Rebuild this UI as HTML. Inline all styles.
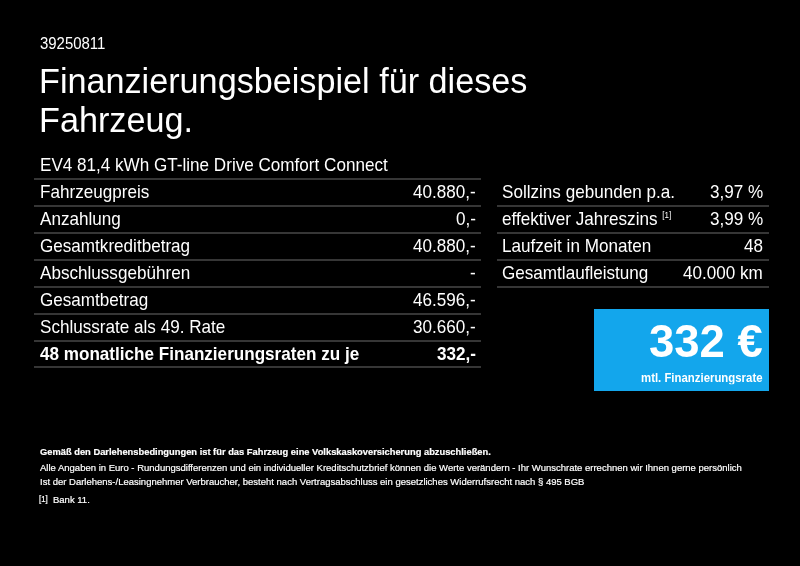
<!DOCTYPE html>
<html><head><meta charset="utf-8">
<style>
*{margin:0;padding:0;box-sizing:border-box}
html,body{width:800px;height:566px;background:#000;overflow:hidden}
body{position:relative;font-family:"Liberation Sans",sans-serif;color:#fff}
.t{position:absolute;white-space:nowrap;line-height:1;will-change:transform}
.ln{position:absolute}
.box{position:absolute}
sup{font-size:0.5em;vertical-align:top;position:relative;top:0}
</style></head><body>
<div class="t" style="left:39.50px;top:36.64px;font-size:14.95px;transform:scale(1.0,1.05);transform-origin:left 12.66px;">39250811</div>
<div class="t" style="left:39.40px;top:64.15px;font-size:34.2px;">Finanzierungsbeispiel für dieses</div>
<div class="t" style="left:39.40px;top:103.45px;font-size:34.2px;">Fahrzeug.</div>
<div class="t" style="left:39.50px;top:156.67px;font-size:17.1px;transform:scale(1.0,1.04);transform-origin:left 14.48px;">EV4 81,4 kWh GT-line Drive Comfort Connect</div>
<div class="ln" style="left:33.5px;top:178.25px;width:447.5px;height:2px;background:#363636"></div>
<div class="t" style="left:39.50px;top:184.45px;font-size:17.1px;transform:scale(1.0,1.04);transform-origin:left 14.48px;">Fahrzeugpreis</div>
<div class="t" style="right:324.40px;top:184.45px;font-size:17.1px;transform:scale(1.0,1.04);transform-origin:right 14.48px;">40.880,-</div>
<div class="ln" style="left:33.5px;top:205.13px;width:447.5px;height:2px;background:#363636"></div>
<div class="t" style="left:39.50px;top:211.33px;font-size:17.1px;transform:scale(1.0,1.04);transform-origin:left 14.48px;">Anzahlung</div>
<div class="t" style="right:324.40px;top:211.33px;font-size:17.1px;transform:scale(1.0,1.04);transform-origin:right 14.48px;">0,-</div>
<div class="ln" style="left:33.5px;top:232.01px;width:447.5px;height:2px;background:#363636"></div>
<div class="t" style="left:39.50px;top:238.21px;font-size:17.1px;transform:scale(1.0,1.04);transform-origin:left 14.48px;">Gesamtkreditbetrag</div>
<div class="t" style="right:324.40px;top:238.21px;font-size:17.1px;transform:scale(1.0,1.04);transform-origin:right 14.48px;">40.880,-</div>
<div class="ln" style="left:33.5px;top:258.89px;width:447.5px;height:2px;background:#363636"></div>
<div class="t" style="left:39.50px;top:265.09px;font-size:17.1px;transform:scale(1.0,1.04);transform-origin:left 14.48px;">Abschlussgebühren</div>
<div class="t" style="right:324.40px;top:265.09px;font-size:17.1px;transform:scale(1.0,1.04);transform-origin:right 14.48px;">-</div>
<div class="ln" style="left:33.5px;top:285.77px;width:447.5px;height:2px;background:#363636"></div>
<div class="t" style="left:39.50px;top:291.97px;font-size:17.1px;transform:scale(1.0,1.04);transform-origin:left 14.48px;">Gesamtbetrag</div>
<div class="t" style="right:324.40px;top:291.97px;font-size:17.1px;transform:scale(1.0,1.04);transform-origin:right 14.48px;">46.596,-</div>
<div class="ln" style="left:33.5px;top:312.65px;width:447.5px;height:2px;background:#363636"></div>
<div class="t" style="left:39.50px;top:318.85px;font-size:17.1px;transform:scale(1.0,1.04);transform-origin:left 14.48px;">Schlussrate als 49. Rate</div>
<div class="t" style="right:324.40px;top:318.85px;font-size:17.1px;transform:scale(1.0,1.04);transform-origin:right 14.48px;">30.660,-</div>
<div class="ln" style="left:33.5px;top:339.53px;width:447.5px;height:2px;background:#363636"></div>
<div class="t" style="left:39.50px;top:345.73px;font-size:17.1px;font-weight:bold;transform:scale(1.0,1.04);transform-origin:left 14.48px;">48 monatliche Finanzierungsraten zu je</div>
<div class="t" style="right:324.40px;top:345.73px;font-size:17.1px;font-weight:bold;transform:scale(1.0,1.04);transform-origin:right 14.48px;">332,-</div>
<div class="ln" style="left:33.5px;top:366.41px;width:447.5px;height:2px;background:#363636"></div>
<div class="t" style="left:502.20px;top:184.45px;font-size:17.1px;transform:scale(1.0,1.04);transform-origin:left 14.48px;">Sollzins gebunden p.a.</div>
<div class="t" style="right:36.80px;top:184.45px;font-size:17.1px;transform:scale(1.0,1.04);transform-origin:right 14.48px;">3,97 %</div>
<div class="ln" style="left:497px;top:205.13px;width:272px;height:2px;background:#363636"></div>
<div class="t" style="left:502.20px;top:211.33px;font-size:17.1px;transform:scale(1.0,1.04);transform-origin:left 14.48px;">effektiver Jahreszins <sup style="font-size:8px;position:relative;top:1px">[1]</sup></div>
<div class="t" style="right:36.80px;top:211.33px;font-size:17.1px;transform:scale(1.0,1.04);transform-origin:right 14.48px;">3,99 %</div>
<div class="ln" style="left:497px;top:232.01px;width:272px;height:2px;background:#363636"></div>
<div class="t" style="left:502.20px;top:238.21px;font-size:17.1px;transform:scale(1.0,1.04);transform-origin:left 14.48px;">Laufzeit in Monaten</div>
<div class="t" style="right:36.80px;top:238.21px;font-size:17.1px;transform:scale(1.0,1.04);transform-origin:right 14.48px;">48</div>
<div class="ln" style="left:497px;top:258.89px;width:272px;height:2px;background:#363636"></div>
<div class="t" style="left:502.20px;top:265.09px;font-size:17.1px;transform:scale(1.0,1.04);transform-origin:left 14.48px;">Gesamtlaufleistung</div>
<div class="t" style="right:36.80px;top:265.09px;font-size:17.1px;transform:scale(1.0,1.04);transform-origin:right 14.48px;">40.000 km</div>
<div class="ln" style="left:497px;top:285.77px;width:272px;height:2px;background:#363636"></div>
<div class="box" style="left:594px;top:309px;width:175px;height:82px;background:#13a6ec"></div>
<div class="t" style="right:37.50px;top:319.28px;font-size:45.5px;font-weight:bold;transform:scale(1.0,1.02);transform-origin:right 38.52px;">332 €</div>
<div class="t" style="right:37.00px;top:372.75px;font-size:11.4px;font-weight:bold;transform:scale(1.0,1.07);transform-origin:right 9.65px;">mtl. Finanzierungsrate</div>
<div class="t" style="left:40.00px;top:448.30px;font-size:9.33px;font-weight:bold;transform:scale(1.0,1.05);transform-origin:left 7.90px;-webkit-text-stroke:0.2px #fff;">Gemäß den Darlehensbedingungen ist für das Fahrzeug eine Volkskaskoversicherung abzuschließen.</div>
<div class="t" style="left:40.00px;top:462.56px;font-size:9.5px;transform:scale(1.0,1.05);transform-origin:left 8.04px;-webkit-text-stroke:0.2px #fff;">Alle Angaben in Euro - Rundungsdifferenzen und ein individueller Kreditschutzbrief können die Werte verändern - Ihr Wunschrate errechnen wir Ihnen gerne persönlich</div>
<div class="t" style="left:40.00px;top:476.56px;font-size:9.5px;transform:scale(1.0,1.05);transform-origin:left 8.04px;-webkit-text-stroke:0.2px #fff;">Ist der Darlehens-/Leasingnehmer Verbraucher, besteht nach Vertragsabschluss ein gesetzliches Widerrufsrecht nach § 495 BGB</div>
<div class="t" style="left:39.30px;top:495.26px;font-size:9.5px;transform:scale(1.0,1.05);transform-origin:left 8.04px;-webkit-text-stroke:0.2px #fff;"><span style="font-size:7.8px;position:relative;top:-0.9px">[1]</span></div>
<div class="t" style="left:52.50px;top:495.26px;font-size:9.5px;transform:scale(1.0,1.05);transform-origin:left 8.04px;-webkit-text-stroke:0.2px #fff;">Bank 11.</div>
</body></html>
